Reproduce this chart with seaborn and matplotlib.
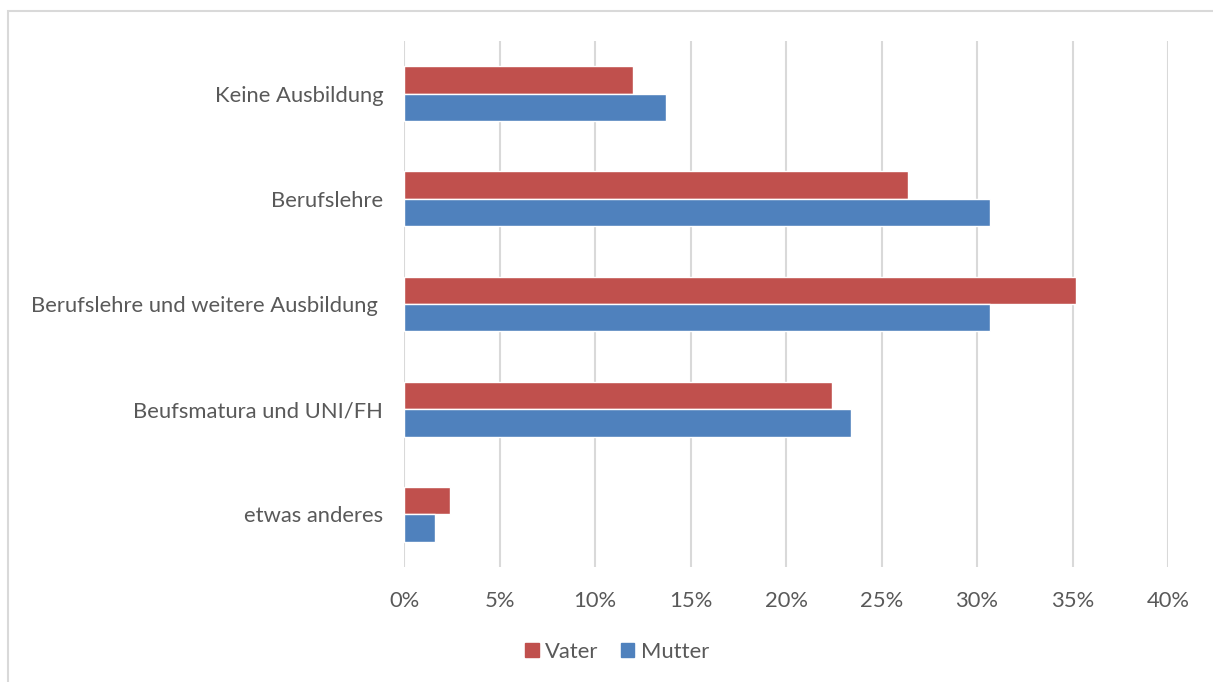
import pandas as pd
import matplotlib.pyplot as plt
import seaborn as sns
from matplotlib.patches import Rectangle
from matplotlib.ticker import PercentFormatter

# Ausbildung der Eltern (Anteile in %)
categories = ['Keine Ausbildung', 'Berufslehre', 'Berufslehre und weitere Ausbildung ',
              'Beufsmatura und UNI/FH', 'etwas anderes']
vater = [12.0, 26.4, 35.2, 22.4, 2.4]
mutter = [13.7, 30.7, 30.7, 23.4, 1.6]
series = ['Vater', 'Mutter']
colors = ['#C0504D', '#4F81BD']
x_ticks = [0, 5, 10, 15, 20, 25, 30, 35, 40]

df = pd.DataFrame({
    'Kategorie': categories * 2,
    'Elternteil': ['Vater'] * len(categories) + ['Mutter'] * len(categories),
    'Anteil': vater + mutter,
})

sns.set_theme(style='white')
plt.rcParams['font.family'] = ['Lato', 'DejaVu Sans']
text_color = '#595959'

fig = plt.figure(figsize=(12.13, 6.82), dpi=100)
ax = fig.add_axes([404 / 1213, 1 - 567 / 682, (1168 - 404) / 1213, (567 - 41) / 682])

sns.barplot(data=df, y='Kategorie', x='Anteil', hue='Elternteil', order=categories,
            hue_order=series, palette=colors, width=0.52, orient='h',
            saturation=1, ax=ax, legend=False)

ax.set_xlim(0, 40)
ax.set_xticks(x_ticks)
ax.xaxis.set_major_formatter(PercentFormatter(decimals=0))
ax.grid(axis='x', color='#D9D9D9', linewidth=1.5)
ax.grid(axis='y', visible=False)
ax.set_axisbelow(True)
for s in ax.spines.values():
    s.set_visible(False)
ax.set_xlabel('')
ax.set_ylabel('')
ax.tick_params(axis='both', length=0, labelsize=15.8, labelcolor=text_color)
ax.tick_params(axis='x', pad=17)
ax.tick_params(axis='y', pad=15)

# legend
handles = [Rectangle((0, 0), 1, 1, color=c) for c in colors]
fig.legend(handles, series, loc='center', bbox_to_anchor=(617 / 1213, 1 - 652 / 682),
           ncol=2, frameon=False, fontsize=15.8, labelcolor=text_color,
           handlelength=0.62, handleheight=0.62, handletextpad=0.3, columnspacing=1.0)

# outer chart border (runs off the right and bottom edges)
fig.patches.append(Rectangle((8 / 1213, -10 / 682), 1220 / 1213, 681 / 682,
                             transform=fig.transFigure, fill=False,
                             edgecolor='#D9D9D9', linewidth=1.5))

fig.savefig('out.png', dpi=100)
